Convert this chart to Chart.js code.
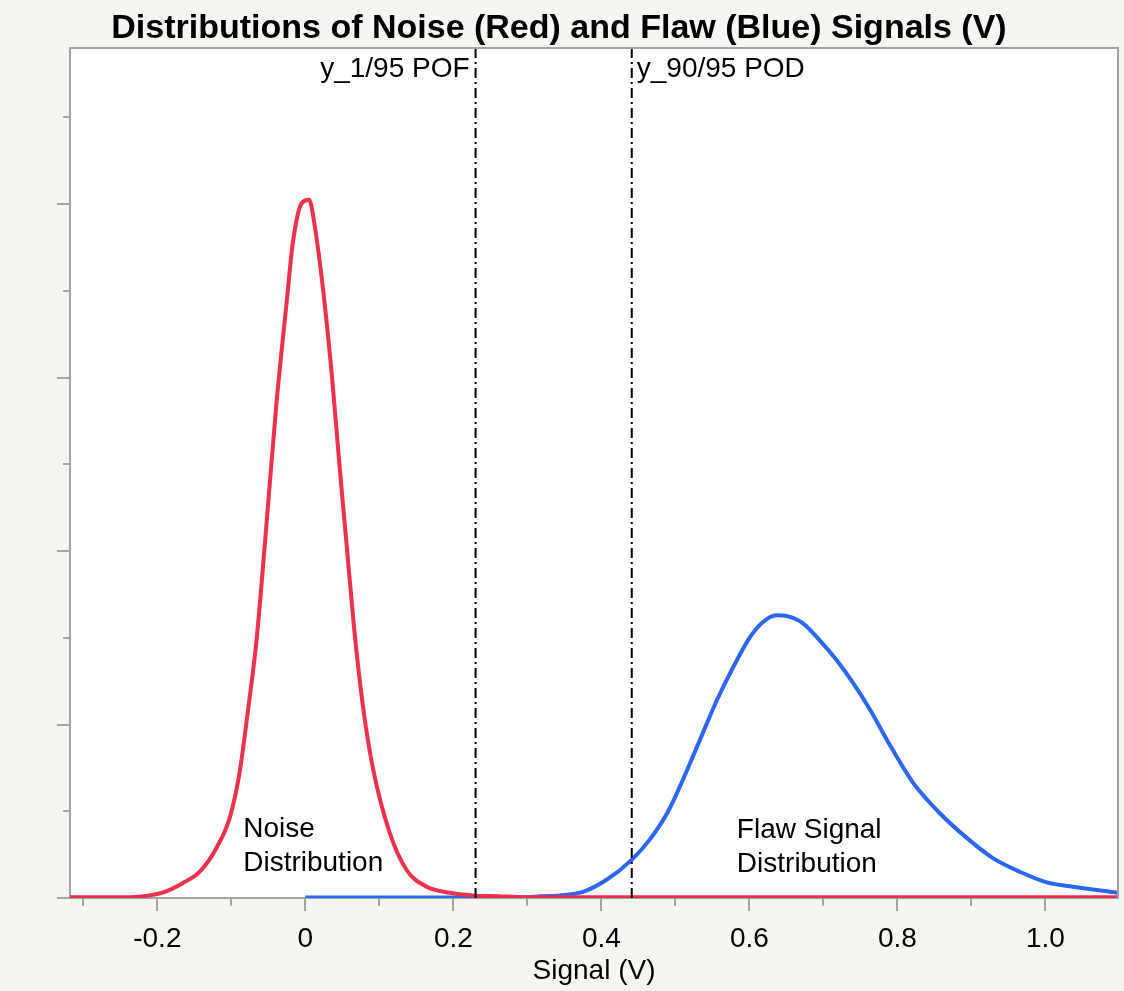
<!DOCTYPE html>
<html>
<head>
<meta charset="utf-8">
<title>Distributions of Noise and Flaw Signals</title>
<script src="https://cdn.jsdelivr.net/npm/chart.js@4/dist/chart.umd.min.js"></script>
<style>
    body { margin: 0; background: #f5f5f1; }
    #wrap { width: 1124px; height: 991px; position: relative; }
</style>
</head>
<body>
<div id="wrap"><canvas id="mainChart"></canvas></div>
<script>
// Noise (red) density curve
const noiseX = [-0.318, -0.237, -0.21, -0.19, -0.166, -0.143, -0.12, -0.102, -0.089, -0.078, -0.066, -0.055,
    -0.039, -0.025, -0.017, -0.005, 0.005, 0.013, 0.024, 0.036, 0.047, 0.056, 0.066, 0.078, 0.091,
    0.114, 0.137, 0.164, 0.195, 0.226, 0.26, 0.3, 0.5, 0.8, 1.098];
const noiseY = [0.01, 0.01, 0.03, 0.07, 0.17, 0.30, 0.58, 0.93, 1.44, 2.13, 2.97, 4.05,
    5.71, 6.89, 7.55, 8.01, 8.05, 7.73, 7.01, 6.01, 4.90, 4.05, 3.10, 2.20, 1.51,
    0.75, 0.32, 0.13, 0.06, 0.03, 0.02, 0.01, 0.01, 0.01, 0.01];

// Flaw signal (blue) density curve
const flawX = [0, 0.1, 0.2, 0.3, 0.317, 0.344, 0.375, 0.407, 0.441, 0.465, 0.489, 0.51, 0.533, 0.556,
    0.578, 0.601, 0.618, 0.637, 0.651, 0.672, 0.695, 0.718, 0.74, 0.763, 0.786, 0.821,
    0.857, 0.894, 0.929, 0.966, 1.002, 1.037, 1.097];
const flawY = [0.005, 0.005, 0.005, 0.01, 0.02, 0.03, 0.07, 0.21, 0.44, 0.67, 0.98, 1.36, 1.82, 2.28,
    2.66, 3.01, 3.18, 3.26, 3.25, 3.17, 2.97, 2.74, 2.48, 2.17, 1.82, 1.33,
    0.98, 0.69, 0.46, 0.30, 0.18, 0.13, 0.06];

// Threshold lines
const pofX = 0.23;
const podX = 0.441;

// Axes
const xMin = -0.318;
const xMax = 1.098;
const yMax = 9.8;
const xMajorTicks = [-0.2, 0, 0.2, 0.4, 0.6, 0.8, 1.0];
const xTickLabels = ['-0.2', '0', '0.2', '0.4', '0.6', '0.8', '1.0'];
const xMinorTicks = [-0.3, -0.1, 0.1, 0.3, 0.5, 0.7, 0.9];
const yMajorTicks = [0, 2, 4, 6, 8];
const yMinorTicks = [1, 3, 5, 7, 9];

const FONT = "'Liberation Sans', Arial, Helvetica, sans-serif";
const AXIS_GREY = '#a3a3a3';

function toPoints(xs, ys) {
    return xs.map((x, i) => ({ x: x, y: ys[i] }));
}

// white plot background, frame and tick marks
const framePlugin = {
    id: 'frame',
    beforeDraw(chart) {
        const { ctx, chartArea: a } = chart;
        ctx.save();
        ctx.fillStyle = '#ffffff';
        ctx.fillRect(a.left, a.top, a.right - a.left, a.bottom - a.top);
        ctx.restore();
    },
    afterDraw(chart) {
        const { ctx, chartArea: a, scales } = chart;
        ctx.save();
        ctx.strokeStyle = AXIS_GREY;
        ctx.lineWidth = 2;
        ctx.beginPath();
        ctx.moveTo(a.left, a.top);
        ctx.lineTo(a.right, a.top);
        ctx.lineTo(a.right, a.bottom);
        // x ticks
        xMajorTicks.forEach(v => {
            const px = Math.round(scales.x.getPixelForValue(v));
            ctx.moveTo(px, a.bottom);
            ctx.lineTo(px, a.bottom + 13);
        });
        xMinorTicks.forEach(v => {
            const px = Math.round(scales.x.getPixelForValue(v));
            ctx.moveTo(px, a.bottom);
            ctx.lineTo(px, a.bottom + 8);
        });
        // y ticks
        yMajorTicks.forEach(v => {
            const py = Math.round(scales.y.getPixelForValue(v));
            ctx.moveTo(a.left - 13, py);
            ctx.lineTo(a.left, py);
        });
        yMinorTicks.forEach(v => {
            const py = Math.round(scales.y.getPixelForValue(v));
            ctx.moveTo(a.left - 7, py);
            ctx.lineTo(a.left, py);
        });
        ctx.stroke();
        ctx.restore();
    }
};

// text annotations
const labelPlugin = {
    id: 'labels',
    afterDatasetsDraw(chart) {
        const { ctx, scales } = chart;
        const xs = scales.x, ys = scales.y;
        ctx.save();
        ctx.fillStyle = '#000000';
        ctx.font = `28px ${FONT}`;
        ctx.textBaseline = 'middle';

        ctx.textAlign = 'right';
        ctx.fillText('y_1/95 POF', xs.getPixelForValue(pofX) - 6, ys.getPixelForValue(9.55));
        ctx.textAlign = 'left';
        ctx.fillText('y_90/95 POD', xs.getPixelForValue(podX) + 5, ys.getPixelForValue(9.55));

        ctx.fillText('Noise', xs.getPixelForValue(-0.084), ys.getPixelForValue(0.795));
        ctx.fillText('Distribution', xs.getPixelForValue(-0.084), ys.getPixelForValue(0.40));
        ctx.fillText('Flaw Signal', xs.getPixelForValue(0.583), ys.getPixelForValue(0.784));
        ctx.fillText('Distribution', xs.getPixelForValue(0.583), ys.getPixelForValue(0.392));
        ctx.restore();
    }
};

const ctx = document.getElementById('mainChart').getContext('2d');
new Chart(ctx, {
    type: 'line',
    data: {
        datasets: [
            {
                label: 'POF',
                data: [{ x: pofX, y: 0 }, { x: pofX, y: yMax }],
                borderColor: '#000000',
                borderWidth: 2,
                borderDash: [10, 4, 2, 4],
                pointRadius: 0,
                tension: 0
            },
            {
                label: 'POD',
                data: [{ x: podX, y: 0 }, { x: podX, y: yMax }],
                borderColor: '#000000',
                borderWidth: 2,
                borderDash: [10, 4, 2, 4],
                pointRadius: 0,
                tension: 0
            },
            {
                label: 'Noise',
                data: toPoints(noiseX, noiseY),
                borderColor: '#ee3048',
                borderWidth: 4,
                pointRadius: 0,
                cubicInterpolationMode: 'monotone'
            },
            {
                label: 'Flaw',
                data: toPoints(flawX, flawY),
                borderColor: '#2b66f6',
                borderWidth: 4,
                pointRadius: 0,
                cubicInterpolationMode: 'monotone'
            }
        ]
    },
    options: {
        responsive: true,
        maintainAspectRatio: false,
        animation: false,
        layout: { padding: { top: 0, right: 6, bottom: 0, left: 0 } },
        plugins: {
            legend: { display: false },
            tooltip: { enabled: false },
            title: {
                display: true,
                text: 'Distributions of Noise (Red) and Flaw (Blue) Signals (V)',
                color: '#000000',
                font: { family: FONT, size: 34, weight: 'bold', lineHeight: 1.1 },
                padding: { top: 10, bottom: 0.6 }
            }
        },
        scales: {
            x: {
                type: 'linear',
                min: xMin,
                max: xMax,
                afterBuildTicks: axis => { axis.ticks = xMajorTicks.map(v => ({ value: v })); },
                afterFit: axis => { axis.height = 93; },
                grid: { display: false, drawTicks: false },
                border: { display: true, color: AXIS_GREY, width: 2 },
                ticks: {
                    autoSkip: false,
                    maxRotation: 0,
                    padding: 24,
                    color: '#000000',
                    font: { family: FONT, size: 28 },
                    callback: (v, i) => xTickLabels[i]
                },
                title: {
                    display: true,
                    text: 'Signal (V)',
                    color: '#000000',
                    font: { family: FONT, size: 28 },
                    padding: { top: 0, bottom: 3 }
                }
            },
            y: {
                type: 'linear',
                min: 0,
                max: yMax,
                afterFit: axis => { axis.width = 70; },
                grid: { display: false, drawTicks: false },
                border: { display: true, color: AXIS_GREY, width: 2 },
                ticks: { display: false }
            }
        }
    },
    plugins: [framePlugin, labelPlugin]
});
</script>
</body>
</html>
